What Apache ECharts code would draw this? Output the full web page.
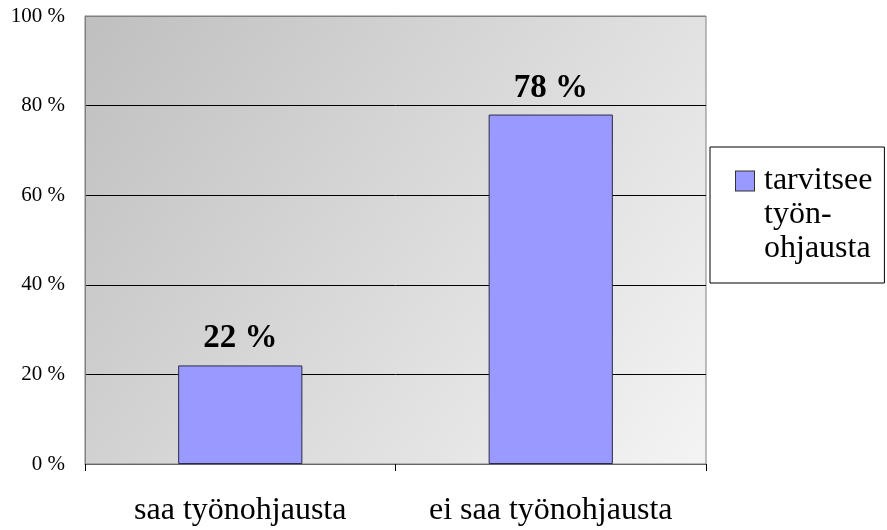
<!DOCTYPE html>
<html>
<head>
<meta charset="utf-8">
<script src="https://cdn.jsdelivr.net/npm/echarts@6/dist/echarts.min.js"></script>
<style>html,body{margin:0;padding:0;background:#fff;}#c{width:887px;height:530px;}</style>
</head>
<body>
<div id="c"></div>
<script>
const categories = ['saa työnohjausta', 'ei saa työnohjausta'];
const seriesName = 'tarvitsee työnohjausta';
const values = [22, 78];
const yTicks = [0, 20, 40, 60, 80, 100];

const FONT = '"Liberation Serif", "Times New Roman", serif';
const chart = echarts.init(document.getElementById('c'));
chart.setOption({
  animation: false,
  backgroundColor: '#ffffff',
  grid: {
    left: 85, right: 181, top: 16, bottom: 66,
    show: true,
    borderColor: '#808080', borderWidth: 1,
    backgroundColor: {
      type: 'linear', x: 0, y: 0, x2: 1, y2: 1,
      colorStops: [{offset: 0, color: '#bfbfbf'}, {offset: 1, color: '#f4f4f4'}]
    }
  },
  legend: {
    left: 710, top: 147,
    orient: 'vertical',
    icon: 'none', itemWidth: 0, itemHeight: 0,
    backgroundColor: '#ffffff',
    borderColor: '#000000', borderWidth: 1,
    padding: [18, 12, 18, 21],
    data: [seriesName],
    formatter: function () {
      return '{sq|}{g|}{t|tarvitsee}\n{in|}{t|työn-}\n{in|}{t|ohjausta}';
    },
    textStyle: {
      fontFamily: FONT, fontSize: 32, color: '#000',
      rich: {
        sq: {width: 18, height: 19, backgroundColor: '#9999FF', borderColor: '#333333', borderWidth: 1},
        g: {width: 10},
        in: {width: 28},
        t: {fontFamily: FONT, fontSize: 32, lineHeight: 34, color: '#000'}
      }
    }
  },
  xAxis: {
    type: 'category',
    data: categories,
    axisLine: {lineStyle: {color: '#666666', width: 1}},
    axisTick: {show: true, length: 7, interval: 0, lineStyle: {color: '#000'}},
    axisLabel: {fontFamily: FONT, fontSize: 32, color: '#000', margin: 31, interval: 0, hideOverlap: false}
  },
  yAxis: {
    type: 'value',
    min: 0, max: 100, interval: 20,
    axisLine: {show: true, lineStyle: {color: '#808080'}},
    axisTick: {show: false},
    splitLine: {lineStyle: {color: ['#666666', '#000000', '#000000', '#000000', '#000000', '#808080'], width: 1}},
    axisLabel: {
      fontFamily: FONT, fontSize: 21, color: '#000', margin: 20,
      formatter: function (v) { return yTicks.indexOf(v) >= 0 ? v + ' %' : ''; }
    }
  },
  series: [{
    name: seriesName,
    type: 'bar',
    data: values,
    barWidth: '40%',
    itemStyle: {color: '#9999FF', borderColor: '#2a2a4a', borderWidth: 1},
    label: {
      show: true, position: 'top', distance: 10,
      fontFamily: FONT, fontSize: 33, fontWeight: 'bold', color: '#000',
      formatter: function (p) { return p.value + ' %'; }
    }
  }]
});
</script>
</body>
</html>
